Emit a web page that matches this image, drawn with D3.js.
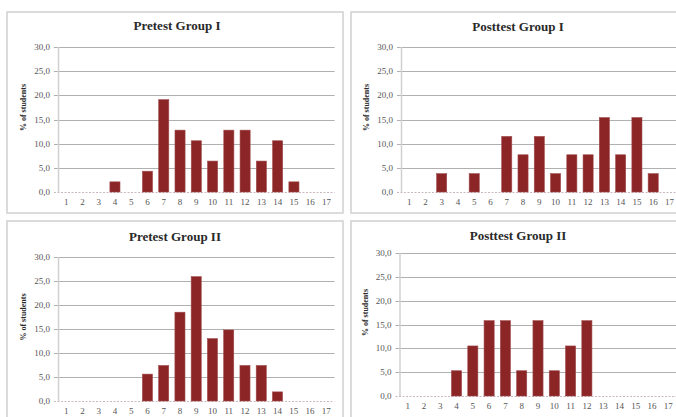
<!DOCTYPE html>
<html>
<head>
<meta charset="utf-8">
<script src="https://cdn.jsdelivr.net/npm/d3@7"></script>
<style>
  html, body { margin: 0; padding: 0; background: #ffffff; }
  svg { display: block; }
</style>
</head>
<body>
<svg id="chart" width="676" height="417"></svg>
<script>
// Score categories (number of correct answers) shared by all four histograms
const categories = ["1","2","3","4","5","6","7","8","9","10","11","12","13","14","15","16","17"];

// Percentage of students per score
const pretestGroupI   = [0, 0, 0, 2.1, 0, 4.3, 19.1, 12.8, 10.6, 6.4, 12.8, 12.8, 6.4, 10.6, 2.1, 0, 0];
const posttestGroupI  = [0, 0, 3.8, 0, 3.8, 0, 11.5, 7.7, 11.5, 3.8, 7.7, 7.7, 15.4, 7.7, 15.4, 3.8, 0];
const pretestGroupII  = [0, 0, 0, 0, 0, 5.6, 7.4, 18.5, 25.9, 13.0, 14.8, 7.4, 7.4, 1.9, 0, 0, 0];
const posttestGroupII = [0, 0, 0, 5.3, 10.5, 15.8, 15.8, 5.3, 15.8, 5.3, 10.5, 15.8, 0, 0, 0, 0, 0];

const panelTitles = ["Pretest Group I", "Posttest Group I", "Pretest Group II", "Posttest Group II"];
const yTicks = [0, 5, 10, 15, 20, 25, 30];
const yAxisTitle = "% of students";

// Layout of each panel: outer frame and inner plot area
const panels = [
  { title: panelTitles[0], values: pretestGroupI,
    frame: [7, 12, 336, 201], plot: { x0: 58, x1: 334.6, y0: 192, y1: 47 }, titleX: 177, titleY: 30 },
  { title: panelTitles[1], values: posttestGroupI,
    frame: [351, 12, 340, 201], plot: { x0: 401, x1: 677.6, y0: 192, y1: 47 }, titleX: 518, titleY: 31 },
  { title: panelTitles[2], values: pretestGroupII,
    frame: [7, 221, 336, 210], plot: { x0: 58, x1: 334.4, y0: 401, y1: 257 }, titleX: 175, titleY: 241 },
  { title: panelTitles[3], values: posttestGroupII,
    frame: [351, 221, 340, 210], plot: { x0: 399.5, x1: 676.5, y0: 396, y1: 253 }, titleX: 518, titleY: 240 }
];

const svg = d3.select("#chart");
const fmt = v => d3.format(".1f")(v).replace(".", ",");
const serif = "'Liberation Serif', 'Times New Roman', serif";

panels.forEach(p => {
  const g = svg.append("g");

  // panel frame
  g.append("rect")
    .attr("x", p.frame[0]).attr("y", p.frame[1])
    .attr("width", p.frame[2]).attr("height", p.frame[3])
    .attr("fill", "#ffffff")
    .attr("stroke", "#d0d0d0")
    .attr("stroke-width", 1.5);

  const x = d3.scaleBand()
    .domain(categories)
    .range([p.plot.x0, p.plot.x1])
    .paddingInner(0.38)
    .paddingOuter(0.19);

  const y = d3.scaleLinear()
    .domain([0, 30])
    .range([p.plot.y0, p.plot.y1]);

  // horizontal gridlines with short outer ticks
  g.append("g")
    .selectAll("line")
    .data(yTicks.filter(t => t > 0))
    .join("line")
    .attr("x1", p.plot.x0 - 4)
    .attr("x2", p.plot.x1)
    .attr("y1", d => Math.round(y(d)) + 0.5)
    .attr("y2", d => Math.round(y(d)) + 0.5)
    .attr("stroke", "#b0b0b0")
    .attr("stroke-width", 1);

  // value axis line
  g.append("line")
    .attr("x1", p.plot.x0 + 0.5).attr("x2", p.plot.x0 + 0.5)
    .attr("y1", y(30)).attr("y2", y(0))
    .attr("stroke", "#d0d0d0")
    .attr("stroke-width", 1.5);

  // category axis at zero
  g.append("line")
    .attr("x1", p.plot.x0 - 4).attr("x2", p.plot.x1)
    .attr("y1", Math.round(y(0)) + 0.5).attr("y2", Math.round(y(0)) + 0.5)
    .attr("stroke", "#c9b9bd")
    .attr("stroke-width", 1)
    .attr("stroke-dasharray", "2,1.5");

  // y tick labels
  g.append("g")
    .selectAll("text")
    .data(yTicks)
    .join("text")
    .attr("x", p.plot.x0 - 8)
    .attr("y", d => y(d) + 3)
    .attr("text-anchor", "end")
    .attr("font-family", serif)
    .attr("font-size", 9)
    .attr("fill", "#555555")
    .text(d => fmt(d));

  // x tick labels
  g.append("g")
    .selectAll("text")
    .data(categories)
    .join("text")
    .attr("x", d => x(d) + x.bandwidth() / 2)
    .attr("y", p.plot.y0 + 13)
    .attr("text-anchor", "middle")
    .attr("font-family", serif)
    .attr("font-size", 9)
    .attr("fill", "#555555")
    .text(d => d);

  // bars
  g.append("g")
    .selectAll("rect")
    .data(categories.map((c, i) => ({ c, v: p.values[i] })).filter(d => d.v > 0))
    .join("rect")
    .attr("x", d => x(d.c))
    .attr("y", d => y(d.v))
    .attr("width", x.bandwidth())
    .attr("height", d => y(0) - y(d.v))
    .attr("fill", "#8b2526")
    .attr("stroke", "#a04a4c")
    .attr("stroke-width", 0.6);

  // panel title
  g.append("text")
    .attr("x", p.titleX)
    .attr("y", p.titleY)
    .attr("text-anchor", "middle")
    .attr("font-family", serif)
    .attr("font-weight", "bold")
    .attr("font-size", 13)
    .attr("fill", "#2a2a2a")
    .text(p.title);

  // y axis title
  const midY = (y(0) + y(30)) / 2 - 12;
  g.append("text")
    .attr("transform", `translate(${p.plot.x0 - 32},${midY}) rotate(-90)`)
    .attr("text-anchor", "middle")
    .attr("font-family", serif)
    .attr("font-weight", "bold")
    .attr("font-size", 8)
    .attr("fill", "#2a2a2a")
    .text(yAxisTitle);
});
</script>
</body>
</html>
